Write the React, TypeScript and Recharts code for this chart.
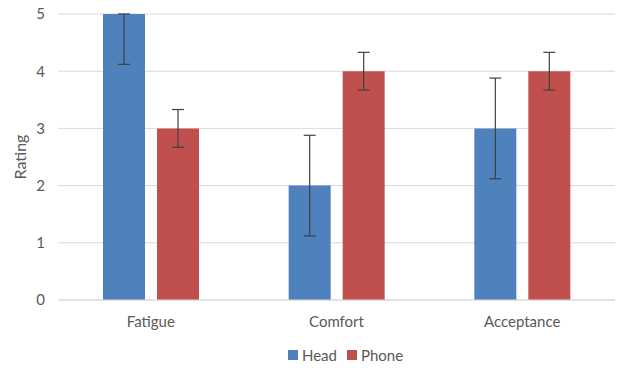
import { BarChart, Bar, XAxis, YAxis, CartesianGrid, Legend, ErrorBar } from 'recharts';

// categories and values
const categories = ['Fatigue', 'Comfort', 'Acceptance'];
const headValues = [5, 2, 3];
const phoneValues = [3, 4, 4];
// [below, above] error lengths; the Fatigue/Head one is cut at the top of the axis
const headErrors = [[0.88, 0], [0.88, 0.88], [0.88, 0.88]];
const phoneErrors = [[0.33, 0.33], [0.33, 0.33], [0.33, 0.33]];
const yTicks = [0, 1, 2, 3, 4, 5];

const data = categories.map((name, i) => ({
  name,
  Head: headValues[i],
  Phone: phoneValues[i],
  headErr: headErrors[i],
  phoneErr: phoneErrors[i],
}));

const FONT = 'Lato, "Liberation Sans", sans-serif';
const TEXT = '#595959';

const legendItems = [
  { label: 'Head', color: '#4F81BD' },
  { label: 'Phone', color: '#C0504D' },
];

function LegendBox() {
  return (
    <div style={{ display: 'flex', justifyContent: 'center', alignItems: 'center', height: 22, paddingLeft: 86, fontFamily: FONT, fontSize: 15, color: TEXT }}>
      {legendItems.map((it) => (
        <span key={it.label} style={{ display: 'flex', alignItems: 'center', marginRight: 10 }}>
          <span style={{ width: 10, height: 10, background: it.color, display: 'inline-block', marginRight: 4 }} />
          {it.label}
        </span>
      ))}
    </div>
  );
}

export default function App() {
  return (
    <div style={{ position: 'fixed', left: 0, top: 0, width: 624, height: 368, background: '#fff' }}>
      <BarChart
        width={624}
        height={368}
        data={data}
        margin={{ top: 14, right: 9, left: 0, bottom: 2 }}
        barSize={42}
        barGap={12}
      >
        <CartesianGrid vertical={false} stroke="#d9d9d9" />
        <XAxis
          dataKey="name"
          height={44}
          axisLine={{ stroke: '#d9d9d9' }}
          tickLine={false}
          tickMargin={10}
          tick={{ fill: TEXT, fontFamily: FONT, fontSize: 15 }}
        />
        <YAxis
          width={58}
          domain={[0, 5]}
          ticks={yTicks}
          axisLine={false}
          tickLine={false}
          tickMargin={7}
          tick={{ fill: TEXT, fontFamily: FONT, fontSize: 15 }}
          label={{ value: 'Rating', angle: -90, position: 'insideLeft', offset: 20, style: { fill: TEXT, fontFamily: FONT, fontSize: 16, textAnchor: 'middle' } }}
        />
        <Legend verticalAlign="bottom" height={22} content={() => <LegendBox />} />
        <Bar dataKey="Head" fill="#4F81BD" isAnimationActive={false}>
          <ErrorBar dataKey="headErr" width={6} stroke="#404040" strokeWidth={1.2} />
        </Bar>
        <Bar dataKey="Phone" fill="#C0504D" isAnimationActive={false}>
          <ErrorBar dataKey="phoneErr" width={6} stroke="#404040" strokeWidth={1.2} />
        </Bar>
      </BarChart>
    </div>
  );
}
